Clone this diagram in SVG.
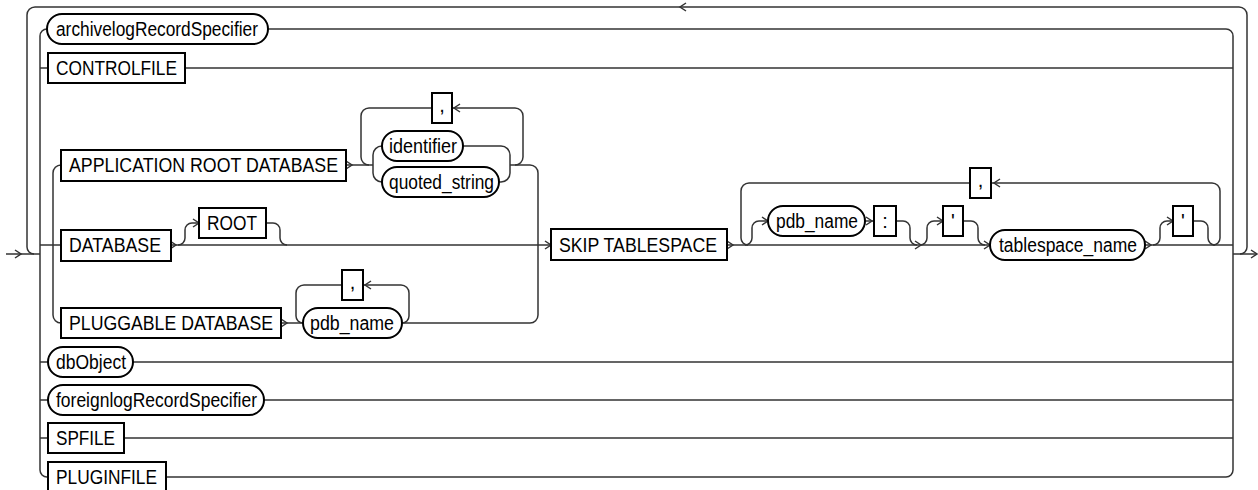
<svg xmlns="http://www.w3.org/2000/svg" width="1258" height="490" viewBox="0 0 1258 490">
<style>
.ln{fill:none;stroke:#333;stroke-width:1.5}
.bx{fill:#fff;stroke:#000;stroke-width:2}
.t{font-family:"Liberation Sans",Arial,sans-serif;font-size:20px;fill:#000}
.c{text-anchor:middle}
</style>
<defs>
<path id="ar" class="ln" d="M-6,-4 L0,0 L-6,4"/>
<path id="al" class="ln" d="M6,-4 L0,0 L6,4"/>
</defs>
<rect width="1258" height="490" fill="#fff"/>
<g id="connectors">
<path class="ln" d="M6,254 H40"/>
<use href="#ar" x="21" y="254"/>
<path class="ln" d="M1233,254 H1257"/>
<use href="#ar" x="1257" y="254"/>
<path class="ln" d="M1240,254 A7,7 0 0 0 1247,247 V15 A8,8 0 0 0 1239,7 H35 A8,8 0 0 0 27,15 V247 A7,7 0 0 0 34,254"/>
<use href="#al" x="680" y="7"/>
<path class="ln" d="M47,29 A7,7 0 0 0 40,36 V470 A7,7 0 0 0 47,477"/>
<path class="ln" d="M1226,29 A7,7 0 0 1 1233,36 V470 A7,7 0 0 1 1226,477"/>
<path class="ln" d="M268,29 H1226"/>
<path class="ln" d="M40,68 H48 M185,68 H1233"/>
<path class="ln" d="M40,362 H48 M133,362 H1233"/>
<path class="ln" d="M40,400 H48 M264,400 H1233"/>
<path class="ln" d="M40,438 H48 M124,438 H1233"/>
<path class="ln" d="M166,477 H1226"/>
<path class="ln" d="M40,245 H61"/>
<path class="ln" d="M61,165 A8,8 0 0 0 53,173 V315 A8,8 0 0 0 61,323"/>
<path class="ln" d="M346,165 H373"/>
<use href="#ar" x="352" y="165"/>
<path class="ln" d="M382,146 A9,9 0 0 0 373,155 V173 A9,9 0 0 0 382,182"/>
<path class="ln" d="M463,146 H501 A9,9 0 0 1 510,155 V173 A9,9 0 0 1 501,182 H499"/>
<path class="ln" d="M510,165 H530 A8,8 0 0 1 538,173 V315 A8,8 0 0 1 530,323 H402"/>
<path class="ln" d="M369,165 A8,8 0 0 1 361,157 V116 A8,8 0 0 1 369,108 H515 A8,8 0 0 1 523,116 V157 A8,8 0 0 1 515,165"/>
<use href="#al" x="454" y="108"/>
<path class="ln" d="M171,245 H551"/>
<use href="#ar" x="176" y="245"/>
<path class="ln" d="M178,245 A7,7 0 0 0 185,238 V230 A7,7 0 0 1 192,223 H199"/>
<use href="#ar" x="199" y="223"/>
<path class="ln" d="M266,223 H273 A7,7 0 0 1 280,230 V238 A7,7 0 0 0 287,245"/>
<path class="ln" d="M281,323 H303"/>
<use href="#ar" x="287" y="323"/>
<path class="ln" d="M303,323 A7,7 0 0 1 296,316 V293 A8,8 0 0 1 304,285 H401 A8,8 0 0 1 409,293 V316 A7,7 0 0 1 402,323"/>
<use href="#al" x="365" y="285"/>
<use href="#ar" x="551" y="245"/>
<path class="ln" d="M727,245 H1233"/>
<use href="#ar" x="733" y="245"/>
<path class="ln" d="M748,245 A7,7 0 0 1 741,238 V191 A8,8 0 0 1 749,183 H1212 A8,8 0 0 1 1220,191 V238 A7,7 0 0 1 1213,245"/>
<use href="#al" x="994" y="183"/>
<path class="ln" d="M745,245 A7,7 0 0 0 752,238 V228 A7,7 0 0 1 759,221 H768"/>
<use href="#ar" x="768" y="221"/>
<path class="ln" d="M865,221 H874"/>
<use href="#ar" x="872" y="221"/>
<path class="ln" d="M896,221 H903 A7,7 0 0 1 910,228 V238 A7,7 0 0 0 917,245"/>
<use href="#ar" x="921" y="245"/>
<path class="ln" d="M920,245 A7,7 0 0 0 927,238 V228 A7,7 0 0 1 934,221 H943"/>
<use href="#ar" x="943" y="221"/>
<path class="ln" d="M963,221 H971 A7,7 0 0 1 978,228 V238 A7,7 0 0 0 985,245"/>
<use href="#ar" x="990" y="245"/>
<use href="#ar" x="1151" y="245"/>
<path class="ln" d="M1153,245 A7,7 0 0 0 1160,238 V228 A7,7 0 0 1 1167,221 H1173"/>
<use href="#ar" x="1173" y="221"/>
<path class="ln" d="M1193,221 H1201 A7,7 0 0 1 1208,228 V238 A7,7 0 0 0 1215,245"/>
</g>
<g id="archivelogRecordSpecifier"><rect class="bx" x="47" y="14" width="221" height="30" rx="15"/><text class="t" x="56" y="36" textLength="202" lengthAdjust="spacingAndGlyphs">archivelogRecordSpecifier</text></g>
<g id="CONTROLFILE"><rect class="bx" x="48" y="53" width="137" height="30"/><text class="t" x="56" y="75" textLength="121" lengthAdjust="spacingAndGlyphs">CONTROLFILE</text></g>
<g id="APPLICATION_ROOT_DATABASE"><rect class="bx" x="61" y="150" width="285" height="31"/><text class="t" x="69" y="172" textLength="269" lengthAdjust="spacingAndGlyphs">APPLICATION ROOT DATABASE</text></g>
<g id="comma1"><rect class="bx" x="432" y="93" width="20" height="30"/><text class="t c" x="442" y="112">,</text></g>
<g id="identifier"><rect class="bx" x="382" y="131" width="81" height="30" rx="15"/><text class="t" x="389" y="153" textLength="68" lengthAdjust="spacingAndGlyphs">identifier</text></g>
<g id="quoted_string"><rect class="bx" x="382" y="167" width="117" height="30" rx="15"/><text class="t" x="389" y="189" textLength="105" lengthAdjust="spacingAndGlyphs">quoted_string</text></g>
<g id="DATABASE"><rect class="bx" x="61" y="230" width="110" height="31"/><text class="t" x="69" y="252" textLength="92" lengthAdjust="spacingAndGlyphs">DATABASE</text></g>
<g id="ROOT"><rect class="bx" x="199" y="208" width="67" height="30"/><text class="t" x="207" y="230" textLength="50" lengthAdjust="spacingAndGlyphs">ROOT</text></g>
<g id="PLUGGABLE_DATABASE"><rect class="bx" x="61" y="308" width="220" height="30"/><text class="t" x="69" y="330" textLength="204" lengthAdjust="spacingAndGlyphs">PLUGGABLE DATABASE</text></g>
<g id="comma2"><rect class="bx" x="342" y="270" width="21" height="30"/><text class="t c" x="352.5" y="289">,</text></g>
<g id="pdb_name1"><rect class="bx" x="303" y="308" width="99" height="30" rx="15"/><text class="t" x="310" y="330" textLength="84" lengthAdjust="spacingAndGlyphs">pdb_name</text></g>
<g id="SKIP_TABLESPACE"><rect class="bx" x="551" y="229" width="176" height="31"/><text class="t" x="559" y="252" textLength="158" lengthAdjust="spacingAndGlyphs">SKIP TABLESPACE</text></g>
<g id="comma3"><rect class="bx" x="970" y="168" width="21" height="30"/><text class="t c" x="980.5" y="187">,</text></g>
<g id="pdb_name2"><rect class="bx" x="768" y="206" width="97" height="30" rx="15"/><text class="t" x="776" y="228" textLength="82" lengthAdjust="spacingAndGlyphs">pdb_name</text></g>
<g id="colon"><rect class="bx" x="874" y="206" width="22" height="30"/><text class="t c" x="885" y="228">:</text></g>
<g id="quote1"><rect class="bx" x="943" y="206" width="20" height="30"/><text class="t c" x="953" y="228">'</text></g>
<g id="tablespace_name"><rect class="bx" x="990" y="230" width="155" height="30" rx="15"/><text class="t" x="999" y="252" textLength="138" lengthAdjust="spacingAndGlyphs">tablespace_name</text></g>
<g id="quote2"><rect class="bx" x="1173" y="206" width="20" height="30"/><text class="t c" x="1183" y="228">'</text></g>
<g id="dbObject"><rect class="bx" x="48" y="347" width="85" height="30" rx="15"/><text class="t" x="56" y="369" textLength="70" lengthAdjust="spacingAndGlyphs">dbObject</text></g>
<g id="foreignlogRecordSpecifier"><rect class="bx" x="48" y="385" width="216" height="30" rx="15"/><text class="t" x="56" y="407" textLength="201" lengthAdjust="spacingAndGlyphs">foreignlogRecordSpecifier</text></g>
<g id="SPFILE"><rect class="bx" x="48" y="423" width="76" height="30"/><text class="t" x="56" y="445" textLength="59" lengthAdjust="spacingAndGlyphs">SPFILE</text></g>
<g id="PLUGINFILE"><rect class="bx" x="48" y="462" width="118" height="30"/><text class="t" x="56" y="484" textLength="101" lengthAdjust="spacingAndGlyphs">PLUGINFILE</text></g>
</svg>
